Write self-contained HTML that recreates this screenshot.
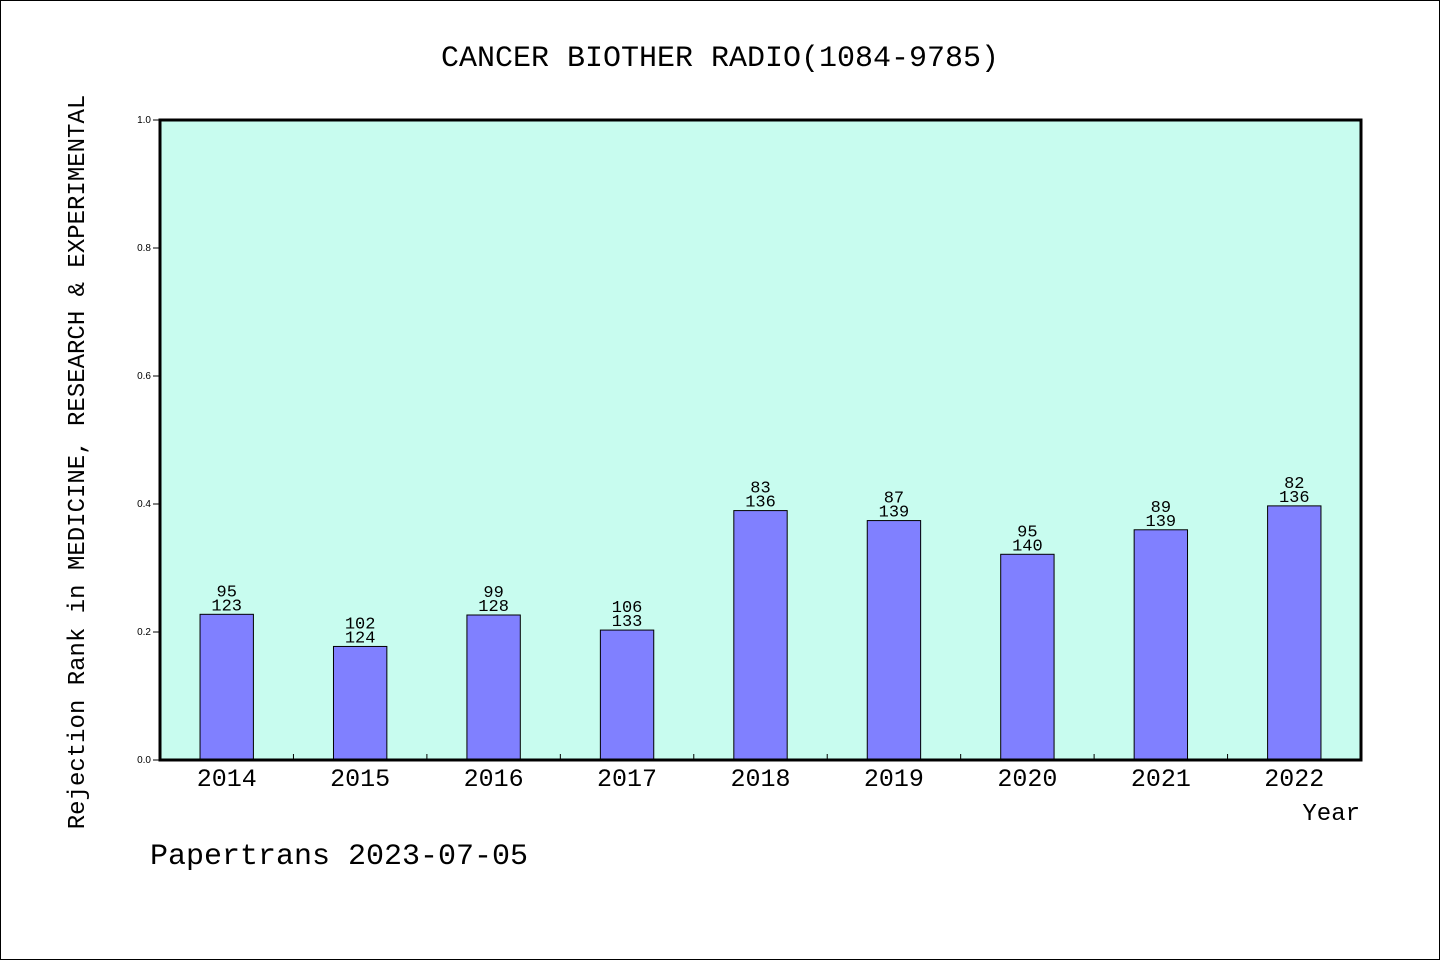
<!DOCTYPE html>
<html><head><meta charset="utf-8"><style>
html,body{margin:0;padding:0;background:#fff}
svg{display:block;font-family:"WenQuanYi Zen Hei","Liberation Mono",monospace}
</style></head><body>
<svg id="chart" width="1440" height="960" viewBox="0 0 1440 960">
<rect x="0.5" y="0.5" width="1439" height="959" fill="#fff" stroke="#000"/>
<text x="720" y="66" text-anchor="middle" font-size="30">CANCER BIOTHER RADIO(1084-9785)</text>
<rect x="160" y="120" width="1201" height="640" fill="#c8fcef"/>
<g id="bars"></g>
<g id="yaxis"></g>
<g id="xaxis"></g>
<rect x="160" y="120" width="1201" height="640" fill="none" stroke="#000" stroke-width="3"/>
<text x="1360" y="820" text-anchor="end" font-size="24">Year</text>
<text transform="translate(84,462) rotate(-90)" text-anchor="middle" font-size="24">Rejection Rank in MEDICINE, RESEARCH &amp; EXPERIMENTAL</text>
<text x="150" y="864" font-size="30">Papertrans 2023-07-05</text>
</svg>
<script>
const years = ["2014","2015","2016","2017","2018","2019","2020","2021","2022"];
const ranks = [95,102,99,106,83,87,95,89,82];
const totals = [123,124,128,133,136,139,140,139,136];
const yTicks = ["0.0","0.2","0.4","0.6","0.8","1.0"];
const NS="http://www.w3.org/2000/svg";
const X0=160,W=1201,Y0=760,H=640;
const step=W/years.length;
const xc=i=>X0+(i+0.5)*step;
const ys=v=>Y0-v*H;
function mk(t,a,p){const e=document.createElementNS(NS,t);for(const k in a)e.setAttribute(k,a[k]);p.appendChild(e);return e;}
const gb=document.getElementById('bars'),gy=document.getElementById('yaxis'),gx=document.getElementById('xaxis');
years.forEach((y,i)=>{
  const v=1-ranks[i]/totals[i];
  const bw=step*0.4;
  const r=mk('rect',{x:xc(i)-bw/2,y:ys(v),width:bw,height:Y0-ys(v),fill:'#8080ff',stroke:'#000','stroke-width':1},gb);
  
  
  const t1=mk('text',{x:xc(i),y:ys(v)-18,'text-anchor':'middle','font-size':17},gb);t1.textContent=ranks[i];
  
  
  const t2=mk('text',{x:xc(i),y:ys(v)-4,'text-anchor':'middle','font-size':17},gb);t2.textContent=totals[i];
  
  
  const xl=mk('text',{x:xc(i),y:786,'text-anchor':'middle','font-size':25},gx);xl.textContent=y;
  
  
  if(i>0){const tk=mk('line',{x1:X0+i*step,x2:X0+i*step,y1:Y0,y2:Y0-6,stroke:'#000'},gx);
  
  }
});
yTicks.forEach(l=>{
  const v=parseFloat(l);
  const tk=mk('line',{x1:X0-7,x2:X0,y1:ys(v),y2:ys(v),stroke:'#000'},gy);
  
  
  const t=mk('text',{x:X0-9,y:ys(v)+3,'text-anchor':'end','font-size':10,'font-family':'Liberation Sans, sans-serif'},gy);t.textContent=l;
  
  
});
</script>
</body></html>
